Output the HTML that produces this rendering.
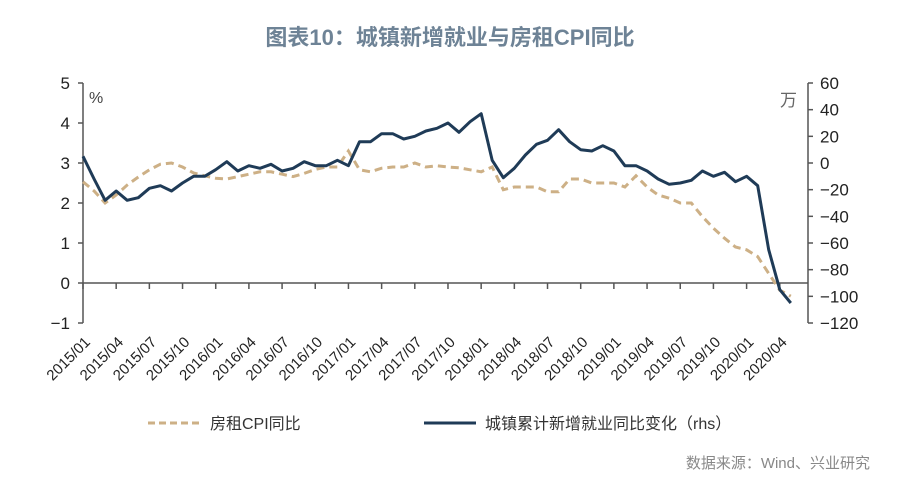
<!DOCTYPE html>
<html><head><meta charset="utf-8"><style>
body{margin:0;background:#fff;}
svg{display:block;font-family:"Liberation Sans","Noto Sans CJK SC",sans-serif;}
</style></head><body>
<svg id="chart" width="900" height="485">
<text x="450" y="45" text-anchor="middle" font-size="22" font-weight="bold" fill="#6e8396">图表10：城镇新增就业与房租CPI同比</text>
<g id="axes"></g>
<g id="marks"></g>
<g>
<line x1="148" y1="423" x2="202" y2="423" stroke="#cdb086" stroke-width="3" stroke-dasharray="7,4"/>
<text x="210" y="429" font-size="16" fill="#333">房租CPI同比</text>
<line x1="424" y1="423" x2="476" y2="423" stroke="#1f3b57" stroke-width="3"/>
<text x="485" y="429" font-size="16" fill="#333">城镇累计新增就业同比变化（rhs）</text>
</g>
<text x="870" y="468" text-anchor="end" font-size="15" fill="#888">数据来源：Wind、兴业研究</text>
</svg>
<script>
const rentCpi = [2.53,2.3,2.0,2.2,2.45,2.65,2.83,2.97,3.0,2.9,2.75,2.68,2.62,2.6,2.66,2.72,2.78,2.78,2.72,2.66,2.74,2.84,2.9,2.9,3.3,2.83,2.78,2.87,2.9,2.9,3.0,2.9,2.93,2.9,2.88,2.83,2.78,2.9,2.33,2.4,2.4,2.4,2.28,2.28,2.6,2.6,2.5,2.5,2.5,2.4,2.68,2.4,2.2,2.12,2.0,2.0,1.66,1.37,1.12,0.9,0.83,0.66,0.24,-0.18,-0.33];
const employment = [5,-12,-28,-21,-28,-26,-19,-17,-21,-15,-10,-10,-5,1,-6,-2,-4,-1,-6,-4,1,-2,-2,2,-2,16,16,22,22,18,20,24,26,30,23,31,37,2,-11,-4,6,14,17,25,16,10,9,13,9,-2,-2,-6,-12,-16,-15,-13,-6,-10,-7,-14,-10,-17,-65,-95,-105];
const leftTicks = [5,4,3,2,1,0,-1];
const rightTicks = [60,40,20,0,-20,-40,-60,-80,-100,-120];
const xLabels = ["2015/01","2015/04","2015/07","2015/10","2016/01","2016/04","2016/07","2016/10","2017/01","2017/04","2017/07","2017/10","2018/01","2018/04","2018/07","2018/10","2019/01","2019/04","2019/07","2019/10","2020/01","2020/04"];

const NS="http://www.w3.org/2000/svg";
const X0=83,X1=808,STEP=11.06;
const xAt=i=>X0+i*STEP;
const yL=v=>283-v*40;
const yR=v=>163-v*(40/30);
const axes=document.getElementById('axes'),marks=document.getElementById('marks');
function mk(tag,attrs,parent){const e=document.createElementNS(NS,tag);for(const k in attrs)e.setAttribute(k,attrs[k]);parent.appendChild(e);return e;}
const ax="#555";
let e;
e=mk('line',{x1:X0,y1:yL(5),x2:X0,y2:yL(-1),stroke:ax,'stroke-width':1.5},axes);


e=mk('line',{x1:X1,y1:yR(60),x2:X1,y2:yR(-120),stroke:ax,'stroke-width':1.5},axes);


e=mk('line',{x1:X0,y1:yL(0),x2:X1,y2:yL(0),stroke:ax,'stroke-width':1.5},axes);


leftTicks.forEach(v=>{
  mk('line',{x1:X0-5,y1:yL(v),x2:X0,y2:yL(v),stroke:ax,'stroke-width':1.5},axes);
  const t=mk('text',{x:X0-13,y:yL(v)+6,'text-anchor':'end','font-size':17,fill:'#222'},axes);
  t.textContent=v<0?'−'+Math.abs(v):v;
  
  
});
rightTicks.forEach(v=>{
  mk('line',{x1:X1,y1:yR(v),x2:X1+5,y2:yR(v),stroke:ax,'stroke-width':1.5},axes);
  const t=mk('text',{x:X1+12,y:yR(v)+6,'font-size':17,fill:'#222'},axes);
  t.textContent=v<0?'−'+Math.abs(v):v;
  
  
});
e=mk('text',{x:89,y:103,'font-size':16,fill:'#444'},axes);e.textContent='%';


e=mk('text',{x:780,y:106,'font-size':17,fill:'#666'},axes);e.textContent='万';


xLabels.forEach((lab,j)=>{
  const x=xAt(j*3);
  mk('line',{x1:x,y1:yL(0),x2:x,y2:yL(0)+6,stroke:ax,'stroke-width':1.5},axes);
  const t=mk('text',{x:x+8,y:343,'text-anchor':'end','font-size':15,fill:'#222',transform:`rotate(-45 ${x+8} 343)`},axes);
  t.textContent=lab;
  
  
});
const p1=mk('path',{d:rentCpi.map((v,i)=>(i?'L':'M')+xAt(i).toFixed(1)+','+yL(v).toFixed(1)).join(''),fill:'none',stroke:'#cdb086','stroke-width':3,'stroke-dasharray':'8,5'},marks);


const p2=mk('path',{d:employment.map((v,i)=>(i?'L':'M')+xAt(i).toFixed(1)+','+yR(v).toFixed(1)).join(''),fill:'none',stroke:'#1f3b57','stroke-width':3,'stroke-linejoin':'round'},marks);


</script>
</body></html>
